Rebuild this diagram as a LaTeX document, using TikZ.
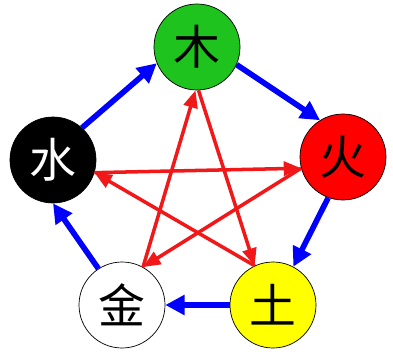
\documentclass[tikz,border=0pt]{standalone}
\usepackage{fontspec}
\newfontfamily\cjk{Noto Sans CJK SC}
\usetikzlibrary{arrows.meta}
\definecolor{wxGreen}{HTML}{1EC31E}
\definecolor{wxRed}{HTML}{FF0000}
\definecolor{wxYellow}{HTML}{FFFF00}
\definecolor{wxBlue}{HTML}{0000FF}
\definecolor{wxStar}{HTML}{F01818}
\tikzset{
  element/.style    = {circle, draw=black, line width=0.6pt, minimum size=2.58cm,
                       inner sep=0pt, font=\cjk\fontsize{40}{40}\selectfont},
  sheng/.style      = {-{Triangle[length=0.58cm, width=0.58cm]}, wxBlue, line width=4.8pt},
  ke/.style         = {-{Triangle[length=0.52cm, width=0.42cm]}, wxStar, line width=3pt},
}

\begin{document}
\begin{tikzpicture}[x=0.03cm,y=-0.03cm]
  \useasboundingbox (0,0) rectangle (393,359);
  % the five elements
  \node[element, fill=wxGreen]  (wood)  at (197,47)  {木};
  \node[element, fill=wxRed]    (fire)  at (343,157) {火};
  \node[element, fill=wxYellow] (earth) at (273,305) {土};
  \node[element, fill=white]    (metal) at (122,305) {金};
  \node[element, fill=black, text=white] (water) at (53,160) {水};
  % generating cycle
  \draw[sheng] (wood.-24)  -- (fire.122);
  \draw[sheng] (fire.250)  -- (earth.62);
  \draw[sheng] (earth.180) -- (metal.0);
  \draw[sheng] (metal.123) -- (water.-90);
  \draw[sheng] (water.48)  -- (wood.202);
  % overcoming star
  \draw[ke] (wood.-88)  -- (earth.115);
  \draw[ke] (earth.115) -- (water.-17);
  \draw[ke] (water.-17) -- (fire.195);
  \draw[ke] (fire.195)  -- (metal.61);
  \draw[ke] (metal.61)  -- (wood.-92);
\end{tikzpicture}
\end{document}
